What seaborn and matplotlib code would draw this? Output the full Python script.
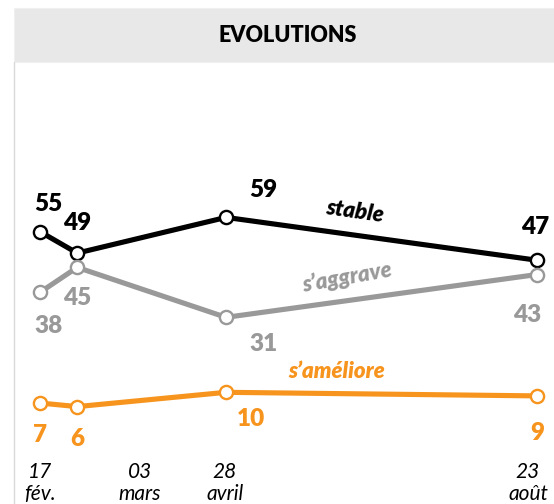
import matplotlib
matplotlib.use("Agg")
import matplotlib.pyplot as plt
import seaborn as sns
import pandas as pd
from matplotlib.patches import Rectangle
from matplotlib.lines import Line2D

# jours depuis le 17 fév.
days = [0, 14, 70, 187]
stable = [55, 49, 59, 47]
aggrave = [38, 45, 31, 43]
ameliore = [7, 6, 10, 9]

series_names = ["stable", "s\u2019aggrave", "s\u2019améliore"]
series_values = [stable, aggrave, ameliore]
colors = ["#000000", "#999999", "#f7941d"]

tick_pos = [0, 37.6, 69.6, 183.6]
tick_labels = ["17\nfév.", "03\nmars", "28\navril", "23\naoût"]

# decalage des etiquettes (points)
label_offsets = [
    [(6, 20), (0, 22), (27, 20), (-1.5, 24)],
    [(6, -24), (0, -22), (27, -19), (-7, -29)],
    [(0, -23), (0, -23), (18, -19), (0, -27)],
]
# position / rotation des noms de series (coord. donnees)
name_pos = [(118.5, 60.5, -8), (115.5, 42.3, 10), (111.7, 15.7, 0)]

rows = []
for name, vals in zip(series_names, series_values):
    for d, v in zip(days, vals):
        rows.append({"day": d, "value": v, "serie": name})
df = pd.DataFrame(rows)

sns.set_theme(style="white")
plt.rcParams['font.family'] = ['Lato', 'DejaVu Sans']

fig = plt.figure(figsize=(5.54, 5.04), dpi=100)
ax = fig.add_axes([0, 1 - 455 / 504, 1, 455 / 504])

for name, col, offs in zip(series_names, colors, label_offsets):
    sub = df[df["serie"] == name]
    sns.lineplot(data=sub, x="day", y="value", color=col, linewidth=3.7,
                 marker="o", markersize=9.5, markerfacecolor="white",
                 markeredgecolor=col, markeredgewidth=1.7, ax=ax, legend=False)
    for (d, v), (ox, oy) in zip(zip(sub["day"], sub["value"]), offs):
        ax.annotate(str(v), (d, v), xytext=(ox, oy), textcoords="offset points",
                    ha="center", va="center", fontsize=17.5, fontweight="heavy",
                    color=col)

for name, col, (x, y, rot) in zip(series_names, colors, name_pos):
    ax.text(x, y, name, color=col, fontsize=16, fontweight="heavy",
            fontstyle="italic", ha="center", va="center", rotation=rot)

ax.set_xlim(-15.05, 193.4)
ax.set_ylim(-7.56, 119.9)
ax.set_xticks(tick_pos)
ax.set_xticklabels(tick_labels, fontstyle="italic", fontsize=15, color="black",
                   linespacing=1.1)
ax.tick_params(axis="x", length=0, pad=5)
ax.set_yticks([])
ax.set_xlabel("")
ax.set_ylabel("")
for s in ax.spines.values():
    s.set_visible(False)

# bandeau du titre
fig.patches.append(Rectangle((14 / 554, 1 - 62 / 504), 540 / 554, 54 / 504,
                             transform=fig.transFigure, facecolor="#e8e8e8",
                             edgecolor="#f0f0f0", linewidth=0.8, zorder=0))
fig.text(288 / 554, 1 - 36 / 504, "EVOLUTIONS", ha="center", va="center",
         fontsize=15.5, fontweight="heavy", color="black")
fig.lines.append(Line2D([14 / 554, 14 / 554], [0, 1 - 62 / 504],
                        transform=fig.transFigure, color="#d9d9d9", linewidth=1))

fig.savefig("out.png", dpi=100)
